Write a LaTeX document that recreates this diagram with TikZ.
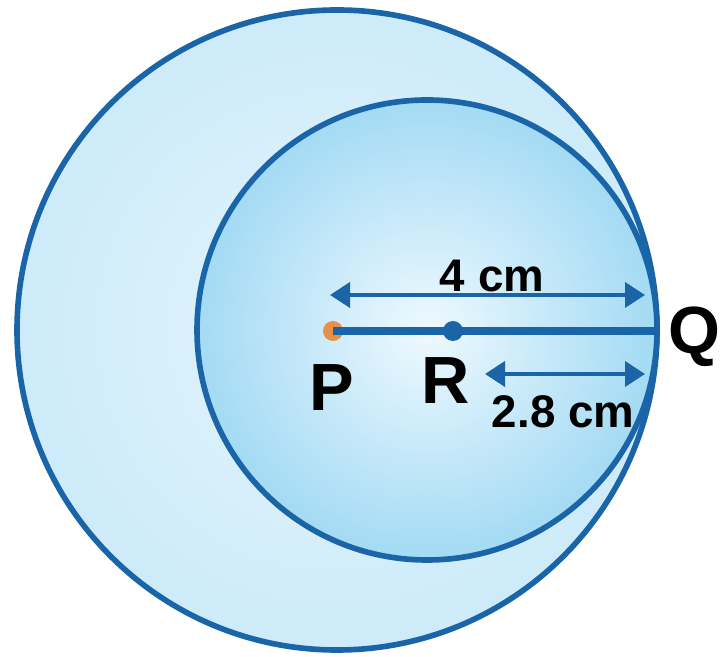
\documentclass[tikz,border=0pt]{standalone}
\usepackage{fontspec}
\setmainfont{Liberation Sans}
\usepackage{xcolor}
\usetikzlibrary{arrows.meta, positioning}
\definecolor{rim}{HTML}{1A64A8}
\definecolor{skyouter}{HTML}{CDEBF9}
\definecolor{skyedge}{HTML}{A3DAF4}
\definecolor{skycore}{HTML}{EEF9FE}
\definecolor{pdot}{HTML}{E8904A}

\begin{document}
\begin{tikzpicture}[
  ring/.style={draw=rim, line width=1.6pt},
  dim/.style={{Triangle[length=2mm, width=2.5mm]}-{Triangle[length=2mm, width=2.5mm]}, line width=1.1pt, color=rim},
  pt/.style={font=\bfseries\fontsize{19}{19}\selectfont},
  dimlabel/.style={font=\bfseries\fontsize{13}{13}\selectfont}
]
\useasboundingbox (0,0) rectangle (7.23,6.56);
\fill[white] (0,0) rectangle (7.23,6.56);

\coordinate (P) at (3.33,3.25);
\coordinate (R) at (4.53,3.25);
\coordinate (Qend) at (6.59,3.25);

% outer and inner circles
\shade[inner color=skycore!70!skyouter, outer color=skyouter] (3.37,3.26) circle (3.20);
\draw[ring] (3.37,3.26) circle (3.20);
\shade[inner color=skycore, outer color=skyedge] (4.27,3.26) circle (2.30);
\draw[ring] (4.27,3.26) circle (2.30);

% radius line
\fill[pdot] (P) circle (0.1);
\draw[rim, line width=2.3pt] (P) -- (Qend);
\fill[rim] (R) circle (0.1);

\node[pt] (Plabel) at (3.32,2.68) {P};
\node[pt] (Rlabel) at (4.46,2.75) {R};
\node[pt, anchor=east, inner sep=0.5pt] (Qlabel) at (7.23,3.19) {Q};

% dimensions
\coordinate (a1) at (3.30,3.61);
\coordinate (a2) at (6.45,3.61);
\coordinate (b1) at (4.85,2.82);
\coordinate (b2) at (6.45,2.82);
\draw[dim] (a1) -- (a2);
\draw[dim] (b1) -- (b2);
\node[dimlabel] (four) at (4.92,3.80) {4 cm};
\node[dimlabel] (twoeight) at (5.63,2.44) {2.8 cm};
\end{tikzpicture}
\end{document}
